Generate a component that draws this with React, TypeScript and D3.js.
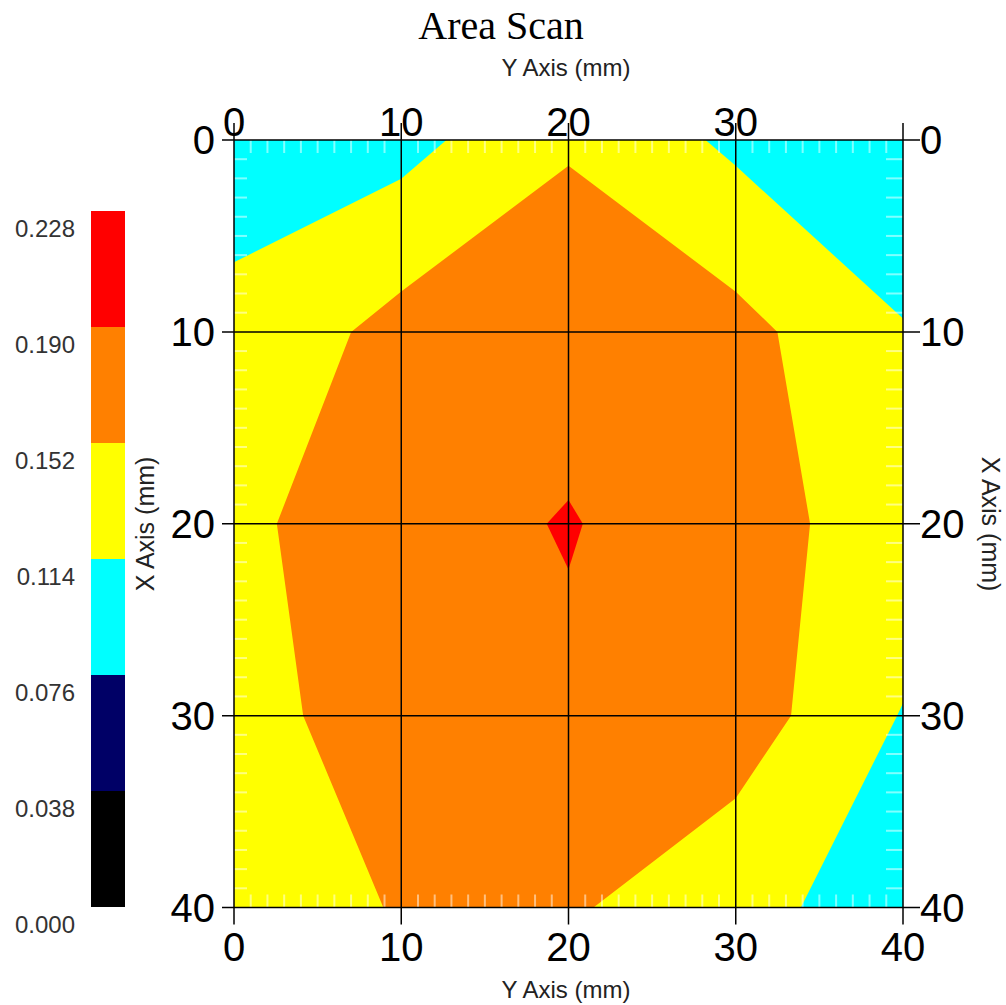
import React from 'react';
import * as d3 from 'd3';

const W = 1006;
const H = 1005;

// Axis ticks (mm)
const axisTicks = [0, 10, 20, 30, 40];
const topTicks = [0, 10, 20, 30];

// Contour levels and colours
const levels = [0, 0.038, 0.076, 0.114, 0.152, 0.19, 0.228];
const levelLabels = ['0.000', '0.038', '0.076', '0.114', '0.152', '0.190', '0.228'];
const bandColors = ['#000000', '#000066', '#00ffff', '#ffff00', '#ff8000', '#ff0000'];

// Measured grid (rows: X = 0..40 mm, columns: Y = 0..40 mm)
const rowX0 = [0.1031, 0.1009, 0.1494, 0.1062, 0.094];
const rowX10 = [0.1202, 0.1656, 0.1688, 0.1641, 0.1155];
const rowX20 = [0.1458, 0.17, 0.193, 0.158, 0.1445];
const rowX30 = [0.1393, 0.17, 0.1804, 0.1718, 0.1119];
const rowX40 = [0.127, 0.155, 0.1566, 0.1258, 0.0955];

const gridValues = [...rowX0, ...rowX10, ...rowX20, ...rowX30, ...rowX40];

const PL = 234, PR = 903, PT = 140, PB = 907.5;

export default function App() {
  const xs = d3.scaleLinear().domain([0, 40]).range([PL, PR]); // Y axis (mm), horizontal
  const ys = d3.scaleLinear().domain([0, 40]).range([PT, PB]); // X axis (mm), vertical
  const cb = d3.scaleLinear().domain([0, 0.228]).range([907, 211]);

  const contours = d3.contours().size([5, 5]).thresholds(levels.slice(0, 6))(gridValues);
  const proj = d3.geoTransform({
    point: function (x: number, y: number) {
      (this as any).stream.point(xs((x - 0.5) * 10), ys((y - 0.5) * 10));
    },
  });
  const path = d3.geoPath(proj as any);

  const minor = d3.range(1, 40).filter((v) => v % 10 !== 0);
  const font = "'Liberation Sans', Arial, sans-serif";

  return (
    <svg width={W} height={H} style={{ position: 'absolute', left: 0, top: 0, background: '#fff' }}>
      <defs>
        <clipPath id="plotclip">
          <rect x={PL} y={PT} width={PR - PL} height={PB - PT} />
        </clipPath>
      </defs>
      <text x={501} y={39} textAnchor="middle" fontFamily="'Liberation Serif', 'Times New Roman', serif" fontSize={40} fill="#000">
        Area Scan
      </text>
      <text x={566} y={76} textAnchor="middle" fontFamily={font} fontSize={24} fill="#222">
        Y Axis (mm)
      </text>
      <text x={566} y={998} textAnchor="middle" fontFamily={font} fontSize={24} fill="#222">
        Y Axis (mm)
      </text>
      <text transform={`translate(154,524) rotate(-90)`} textAnchor="middle" fontFamily={font} fontSize={25} fill="#222">
        X Axis (mm)
      </text>
      <text transform={`translate(982,524) rotate(90)`} textAnchor="middle" fontFamily={font} fontSize={25} fill="#222">
        X Axis (mm)
      </text>

      {/* contour fills */}
      <g clipPath="url(#plotclip)">
        {contours.map((c, i) => (
          <path key={i} d={path(c as any) || ''} fill={bandColors[i]} stroke="none" />
        ))}
      </g>

      {/* minor ticks */}
      <g stroke="rgba(255,255,255,0.5)" strokeWidth={2}>
        {minor.map((v) => (
          <g key={v}>
            <line x1={xs(v)} x2={xs(v)} y1={PT} y2={PT + 13} />
            <line x1={xs(v)} x2={xs(v)} y1={PB} y2={PB - 13} />
            <line x1={PL} x2={PL + 13} y1={ys(v)} y2={ys(v)} />
            <line x1={PR} x2={PR - 17} y1={ys(v)} y2={ys(v)} />
          </g>
        ))}
      </g>

      {/* grid lines and ticks */}
      <g stroke="#000" strokeWidth={1.5}>
        {axisTicks.map((t) => (
          <g key={t}>
            <line x1={xs(t)} x2={xs(t)} y1={PT - 17} y2={PB + 17} />
            <line x1={PL - 12} x2={PR + 17} y1={ys(t)} y2={ys(t)} />
          </g>
        ))}
      </g>

      {/* tick labels */}
      <g fontFamily={font} fontSize={40} fill="#000">
        {topTicks.map((t) => (
          <text key={'t' + t} x={xs(t)} y={PT - 4} textAnchor="middle">{t}</text>
        ))}
        {axisTicks.map((t) => (
          <g key={t}>
            <text x={xs(t)} y={PB + 53} textAnchor="middle">{t}</text>
            <text x={PL - 19} y={ys(t)} dy="0.36em" textAnchor="end">{t}</text>
            <text x={PR + 17} y={ys(t)} dy="0.36em" textAnchor="start">{t}</text>
          </g>
        ))}
      </g>

      {/* colour bar */}
      <g>
        {bandColors.map((c, i) => (
          <rect key={i} x={91} width={34} y={cb(levels[i + 1])} height={cb(levels[i]) - cb(levels[i + 1])} fill={c} />
        ))}
        {levels.map((l, i) => (
          <text key={i} x={75} y={cb(l) + 17} dy="0.36em" textAnchor="end" fontFamily={font} fontSize={24} fill="#333">
            {levelLabels[i]}
          </text>
        ))}
      </g>
    </svg>
  );
}
